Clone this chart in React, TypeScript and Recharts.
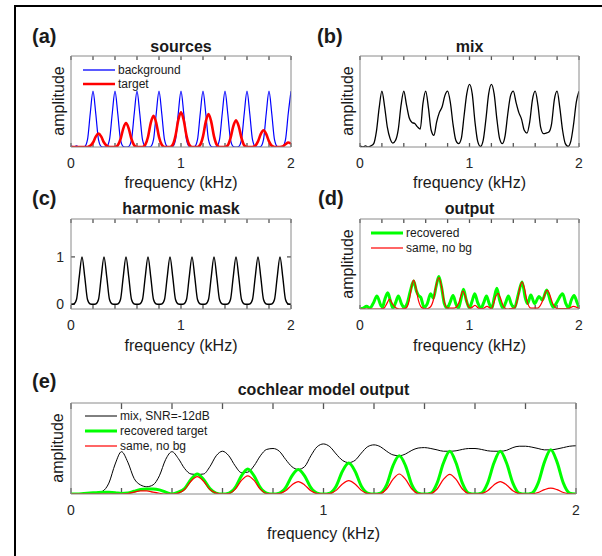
import React from 'react';
import { LineChart, Line, XAxis, YAxis, ReferenceLine } from 'recharts';

const FONT = '"Liberation Sans", Arial, Helvetica, sans-serif';
const AXIS = '#8a8a8a';
const TICK = '#555555';
const TXT = '#262626';

// frequency grid in kHz (0.025 kHz step)
const freqGrid = [
  0, 0.025, 0.05, 0.075, 0.1, 0.125, 0.15, 0.175,
  0.2, 0.225, 0.25, 0.275, 0.3, 0.325, 0.35, 0.375,
  0.4, 0.425, 0.45, 0.475, 0.5, 0.525, 0.55, 0.575,
  0.6, 0.625, 0.65, 0.675, 0.7, 0.725, 0.75, 0.775,
  0.8, 0.825, 0.85, 0.875, 0.9, 0.925, 0.95, 0.975,
  1.0, 1.025, 1.05, 1.075, 1.1, 1.125, 1.15, 1.175,
  1.2, 1.225, 1.25, 1.275, 1.3, 1.325, 1.35, 1.375,
  1.4, 1.425, 1.45, 1.475, 1.5, 1.525, 1.55, 1.575,
  1.6, 1.625, 1.65, 1.675, 1.7, 1.725, 1.75, 1.775,
  1.8, 1.825, 1.85, 1.875, 1.9, 1.925, 1.95, 1.975,
  2.0,
];

const freqTicks = [0, 0.2, 0.4, 0.6, 0.8, 1, 1.2, 1.4, 1.6, 1.8, 2];
const maskTicks = [0, 1];

// (a) sources
const backgroundA = [
  0.02, 0.0, 0.02, 0.0, 0.0, 0.01, 0.13, 0.6,
  1.0, 0.6, 0.13, 0.01, 0.0, 0.01, 0.13, 0.6,
  1.0, 0.6, 0.13, 0.01, 0.0, 0.01, 0.13, 0.6,
  1.0, 0.6, 0.13, 0.01, 0.0, 0.01, 0.13, 0.6,
  1.0, 0.6, 0.13, 0.01, 0.0, 0.01, 0.13, 0.6,
  1.0, 0.6, 0.13, 0.01, 0.0, 0.01, 0.13, 0.6,
  1.0, 0.6, 0.13, 0.01, 0.0, 0.01, 0.13, 0.6,
  1.0, 0.6, 0.13, 0.01, 0.0, 0.01, 0.13, 0.6,
  1.0, 0.6, 0.13, 0.01, 0.0, 0.01, 0.13, 0.6,
  1.0, 0.6, 0.13, 0.01, 0.0, 0.01, 0.13, 0.6,
  1.0,
];
const targetA = [
  0, 0, 0, 0, 0, 0, 0, 0.02,
  0.08, 0.185, 0.24, 0.185, 0.08, 0.02, 0, 0,
  0, 0.03, 0.14, 0.33, 0.43, 0.33, 0.14, 0.03,
  0, 0, 0, 0.04, 0.18, 0.43, 0.56, 0.43,
  0.18, 0.04, 0, 0, 0, 0.04, 0.2, 0.48,
  0.62, 0.48, 0.2, 0.04, 0, 0, 0, 0.04,
  0.19, 0.45, 0.59, 0.45, 0.19, 0.04, 0, 0,
  0, 0.03, 0.16, 0.37, 0.48, 0.37, 0.16, 0.03,
  0, 0, 0, 0.02, 0.1, 0.23, 0.3, 0.23,
  0.1, 0.02, 0, 0, 0, 0.01, 0.05, 0.08,
  0.06,
];

// (b) mix
const mixB = [
  0.02, 0.0, 0.02, 0.0, 0.02, 0.06, 0.28, 0.7,
  1.0, 0.72, 0.35, 0.15, 0.07, 0.12, 0.32, 0.75,
  1.0, 0.75, 0.52, 0.44, 0.42, 0.36, 0.32, 0.78,
  1.0, 0.7, 0.3, 0.21, 0.45, 0.62, 0.72, 0.92,
  1.0, 0.8, 0.4, 0.12, 0.06, 0.15, 0.55, 0.95,
  1.12, 0.95, 0.45, 0.1, 0.01, 0.12, 0.5, 0.95,
  1.12, 0.95, 0.5, 0.15, 0.06, 0.2, 0.6, 0.92,
  1.0, 0.8, 0.62, 0.5, 0.3, 0.25, 0.45, 0.85,
  1.0, 0.75, 0.35, 0.24, 0.25, 0.27, 0.42, 0.85,
  1.0, 0.7, 0.3, 0.06, 0.01, 0.1, 0.4, 0.8,
  1.0,
];

// (c) harmonic mask
const maskC = [
  0, 0.005, 0.1, 0.58, 1.0, 0.58, 0.1, 0.005,
  0, 0.005, 0.1, 0.58, 1.0, 0.58, 0.1, 0.005,
  0, 0.005, 0.1, 0.58, 1.0, 0.58, 0.1, 0.005,
  0, 0.005, 0.1, 0.58, 1.0, 0.58, 0.1, 0.005,
  0, 0.005, 0.1, 0.58, 1.0, 0.58, 0.1, 0.005,
  0, 0.005, 0.1, 0.58, 1.0, 0.58, 0.1, 0.005,
  0, 0.005, 0.1, 0.58, 1.0, 0.58, 0.1, 0.005,
  0, 0.005, 0.1, 0.58, 1.0, 0.58, 0.1, 0.005,
  0, 0.005, 0.1, 0.58, 1.0, 0.58, 0.1, 0.005,
  0, 0.005, 0.1, 0.58, 1.0, 0.58, 0.1, 0.005,
  0,
];

// (d) output : [frequency kHz, amplitude]
const recoveredD: [number, number][] = [
  [0, 0], [0.03, 0.01], [0.06, 0.03], [0.09, 0.01], [0.12, 0.06], [0.155, 0.145],
  [0.19, 0.04], [0.205, 0.02], [0.225, 0.1], [0.253, 0.18], [0.28, 0.08], [0.3, 0.01],
  [0.325, 0.07], [0.35, 0.145], [0.378, 0.06], [0.405, 0.01], [0.43, 0.06], [0.46, 0.2],
  [0.49, 0.31], [0.515, 0.2], [0.535, 0.15], [0.555, 0.13], [0.585, 0.02], [0.615, 0.06],
  [0.645, 0.17], [0.67, 0.12], [0.695, 0.25], [0.72, 0.36], [0.745, 0.24], [0.77, 0.06],
  [0.795, 0.01], [0.822, 0.07], [0.85, 0.15], [0.875, 0.06], [0.9, 0.01], [0.92, 0.1],
  [0.945, 0.22], [0.97, 0.1], [1.0, 0.01], [1.022, 0.08], [1.048, 0.17], [1.075, 0.07],
  [1.105, 0.01], [1.13, 0.07], [1.155, 0.145], [1.18, 0.06], [1.205, 0.01], [1.225, 0.12],
  [1.25, 0.23], [1.275, 0.1], [1.305, 0.01], [1.33, 0.07], [1.355, 0.145], [1.38, 0.06],
  [1.41, 0.01], [1.445, 0.16], [1.48, 0.3], [1.51, 0.12], [1.53, 0.06], [1.56, 0.155],
  [1.595, 0.06], [1.635, 0.14], [1.665, 0.1], [1.705, 0.21], [1.74, 0.08], [1.765, 0.02],
  [1.8, 0.08], [1.85, 0.17], [1.88, 0.06], [1.905, 0.01], [1.93, 0.1], [1.955, 0.15],
  [1.98, 0.08], [2.0, 0.02],
];
const sameNoBgD: [number, number][] = [
  [0, 0], [0.18, 0], [0.22, 0.01], [0.245, 0.06], [0.27, 0.11], [0.295, 0.06],
  [0.33, 0.01], [0.36, 0], [0.42, 0.01], [0.45, 0.1], [0.47, 0.24], [0.49, 0.32],
  [0.51, 0.24], [0.535, 0.09], [0.56, 0.02], [0.6, 0], [0.64, 0.02], [0.67, 0.1],
  [0.695, 0.26], [0.72, 0.35], [0.745, 0.25], [0.77, 0.08], [0.8, 0.01], [0.86, 0.01],
  [0.9, 0.06], [0.92, 0.14], [0.94, 0.2], [0.96, 0.15], [0.985, 0.04], [1.01, 0.01],
  [1.05, 0.04], [1.09, 0.005], [1.12, 0.005], [1.16, 0.03], [1.2, 0.005], [1.22, 0.06],
  [1.24, 0.14], [1.26, 0.175], [1.28, 0.13], [1.31, 0.03], [1.34, 0], [1.41, 0.01],
  [1.44, 0.11], [1.46, 0.24], [1.48, 0.3], [1.5, 0.24], [1.525, 0.09], [1.56, 0.01],
  [1.62, 0.01], [1.66, 0.07], [1.69, 0.17], [1.71, 0.21], [1.73, 0.17], [1.76, 0.06],
  [1.8, 0.005], [1.9, 0.005], [1.95, 0.03], [2.0, 0.005],
];

// (e) cochlear model output
const mixE = [
  0, 0, 0, 0.005, 0.01, 0.03, 0.12, 0.33,
  0.465, 0.35, 0.17, 0.1, 0.08, 0.1, 0.2, 0.38,
  0.465, 0.39, 0.28, 0.22, 0.215, 0.22, 0.3, 0.42,
  0.47, 0.42, 0.31, 0.235, 0.24, 0.31, 0.42, 0.49,
  0.5, 0.47, 0.38, 0.3, 0.27, 0.3, 0.42, 0.52,
  0.55, 0.52, 0.44, 0.37, 0.345, 0.37, 0.45, 0.52,
  0.54, 0.52, 0.47, 0.43, 0.42, 0.44, 0.48, 0.505,
  0.51, 0.5, 0.485, 0.47, 0.47, 0.475, 0.49, 0.5,
  0.5, 0.49, 0.475, 0.47, 0.47, 0.48, 0.51, 0.525,
  0.525, 0.515, 0.5, 0.485, 0.485, 0.495, 0.51, 0.525,
  0.53,
];
const recoveredE = [
  0, 0, 0.005, 0.01, 0.015, 0.02, 0.02, 0.015,
  0.005, 0.01, 0.03, 0.05, 0.055, 0.055, 0.045, 0.02,
  0, 0.02, 0.06, 0.16, 0.22, 0.16, 0.06, 0.01,
  0, 0.01, 0.07, 0.2, 0.275, 0.2, 0.07, 0.01,
  0, 0.01, 0.07, 0.2, 0.27, 0.2, 0.07, 0.01,
  0, 0.01, 0.085, 0.25, 0.34, 0.25, 0.085, 0.01,
  0, 0.01, 0.1, 0.31, 0.42, 0.31, 0.1, 0.01,
  0, 0.01, 0.12, 0.34, 0.47, 0.34, 0.12, 0.01,
  0, 0.01, 0.12, 0.34, 0.47, 0.34, 0.12, 0.01,
  0, 0.01, 0.12, 0.35, 0.485, 0.35, 0.12, 0.01,
  0,
];
const sameNoBgE = [
  0, 0, 0, 0, 0, 0, 0, 0,
  0, 0.005, 0.02, 0.035, 0.035, 0.02, 0.008, 0,
  0, 0.01, 0.05, 0.14, 0.19, 0.14, 0.05, 0.01,
  0, 0.005, 0.05, 0.15, 0.2, 0.15, 0.05, 0.005,
  0, 0.005, 0.035, 0.1, 0.137, 0.1, 0.035, 0.005,
  0, 0.005, 0.04, 0.11, 0.147, 0.11, 0.04, 0.005,
  0, 0.005, 0.055, 0.16, 0.22, 0.16, 0.055, 0.005,
  0, 0.005, 0.055, 0.16, 0.216, 0.16, 0.055, 0.005,
  0, 0.005, 0.035, 0.1, 0.137, 0.1, 0.035, 0.005,
  0, 0.003, 0.016, 0.048, 0.065, 0.048, 0.016, 0.003,
  0,
];

const rowsA = freqGrid.map((f, i) => ({ f, bg: backgroundA[i], tg: targetA[i] }));
const rowsB = freqGrid.map((f, i) => ({ f, mix: mixB[i] }));
const rowsC = freqGrid.map((f, i) => ({ f, mask: maskC[i] }));
const rowsRecD = recoveredD.map(([f, v]) => ({ f, v }));
const rowsNoBgD = sameNoBgD.map(([f, v]) => ({ f, v }));
const rowsE = freqGrid.map((f, i) => ({ f, mix: mixE[i], rec: recoveredE[i], nobg: sameNoBgE[i] }));

const isInt = (v: number) => Math.abs(v - Math.round(v)) < 1e-6;

const bottomLabel = (p: any) => {
  const v = p.payload.value;
  if (!isInt(v)) return <g />;
  return (
    <text x={p.x} y={p.y + 21} textAnchor="middle" fontSize={14} fill={TXT} fontFamily={FONT}>
      {String(Math.round(v))}
    </text>
  );
};
const leftLabel = (p: any) => (
  <text x={p.x - 7} y={p.y + 5} textAnchor="end" fontSize={14} fill={TXT} fontFamily={FONT}>
    {String(p.payload.value)}
  </text>
);

type Box = { l: number; r: number; t: number; b: number };

// inward tick marks drawn as short reference segments through the chart's own scales
function tickMarks(box: Box, yDomain: [number, number], tickLen: number, yTicks?: number[]) {
  const [y0, y1] = yDomain;
  const dy = ((y1 - y0) * tickLen) / (box.b - box.t);
  const dx = (2 * tickLen) / (box.r - box.l);
  const out: React.ReactNode[] = [];
  freqTicks.forEach((t, i) => {
    out.push(
      <ReferenceLine
        key={'b' + i}
        xAxisId="b"
        yAxisId="l"
        ifOverflow="visible"
        segment={[{ x: t, y: y0 }, { x: t, y: y0 + dy }]}
        stroke={TICK}
        strokeWidth={1.3}
      />,
      <ReferenceLine
        key={'t' + i}
        xAxisId="b"
        yAxisId="l"
        ifOverflow="visible"
        segment={[{ x: t, y: y1 }, { x: t, y: y1 - dy }]}
        stroke={TICK}
        strokeWidth={1.3}
      />
    );
  });
  (yTicks || []).forEach((v, i) => {
    out.push(
      <ReferenceLine
        key={'l' + i}
        xAxisId="b"
        yAxisId="l"
        ifOverflow="visible"
        segment={[{ x: 0, y: v }, { x: dx, y: v }]}
        stroke={TICK}
        strokeWidth={1.3}
      />,
      <ReferenceLine
        key={'r' + i}
        xAxisId="b"
        yAxisId="l"
        ifOverflow="visible"
        segment={[{ x: 2, y: v }, { x: 2 - dx, y: v }]}
        stroke={TICK}
        strokeWidth={1.3}
      />
    );
  });
  return out;
}

function Panel(props: {
  box: Box;
  yDomain: [number, number];
  tickLen: number;
  data?: any[];
  yTicks?: number[];
  children: React.ReactNode;
}) {
  const { box, yDomain, tickLen, data, yTicks, children } = props;
  const margin = { left: box.l - 20, right: 602 - box.r - 20, top: box.t - 20, bottom: 556 - box.b - 20 };
  return (
    <div style={{ position: 'absolute', left: 0, top: 0 }}>
      <LineChart width={602} height={556} data={data} margin={margin}>
        <XAxis
          xAxisId="b"
          type="number"
          dataKey="f"
          domain={[0, 2]}
          allowDataOverflow
          ticks={freqTicks}
          interval={0}
          height={20}
          tickSize={0}
          tickMargin={0}
          tickLine={false}
          axisLine={{ stroke: AXIS }}
          tick={bottomLabel}
        />
        <XAxis
          xAxisId="t"
          orientation="top"
          type="number"
          dataKey="f"
          domain={[0, 2]}
          allowDataOverflow
          height={20}
          tickLine={false}
          axisLine={{ stroke: AXIS }}
          tick={false}
        />
        <YAxis
          yAxisId="l"
          type="number"
          domain={yDomain}
          allowDataOverflow
          width={20}
          ticks={yTicks || []}
          interval={0}
          tickSize={0}
          tickMargin={0}
          tickLine={false}
          axisLine={{ stroke: AXIS }}
          tick={yTicks ? leftLabel : false}
        />
        <YAxis
          yAxisId="r"
          orientation="right"
          type="number"
          domain={yDomain}
          allowDataOverflow
          width={20}
          tickLine={false}
          axisLine={{ stroke: AXIS }}
          tick={false}
        />
        {tickMarks(box, yDomain, tickLen, yTicks)}
        {children}
      </LineChart>
    </div>
  );
}

const lineCommon = {
  xAxisId: 'b',
  yAxisId: 'l',
  type: 'monotone' as const,
  dot: false,
  activeDot: false,
  isAnimationActive: false,
};

function Annotations() {
  const t = (x: number, y: number, s: string, size: number, opts: any = {}) => (
    <text
      x={x}
      y={y}
      fontSize={size}
      fontFamily={FONT}
      fill={opts.fill || '#1a1a1a'}
      fontWeight={opts.bold ? 'bold' : 'normal'}
      textAnchor={opts.anchor || 'middle'}
      dominantBaseline="central"
      transform={opts.rotate ? `rotate(-90 ${x} ${y})` : undefined}
    >
      {s}
    </text>
  );
  return (
    <svg
      width={602}
      height={556}
      style={{ position: 'absolute', left: 0, top: 0, pointerEvents: 'none' }}
    >
      <line x1={15} y1={6} x2={602} y2={6} stroke="#000" strokeWidth={2} />
      <line x1={15} y1={5} x2={15} y2={556} stroke="#000" strokeWidth={2} />

      {t(32, 36, '(a)', 20, { bold: true, anchor: 'start' })}
      {t(317, 36, '(b)', 20, { bold: true, anchor: 'start' })}
      {t(32, 198, '(c)', 20, { bold: true, anchor: 'start' })}
      {t(318, 198, '(d)', 20, { bold: true, anchor: 'start' })}
      {t(32, 381, '(e)', 20, { bold: true, anchor: 'start' })}

      {t(181, 46, 'sources', 16, { bold: true })}
      {t(469.5, 46, 'mix', 16, { bold: true })}
      {t(181, 208, 'harmonic mask', 16, { bold: true })}
      {t(469.5, 208, 'output', 16, { bold: true })}
      {t(323.5, 389, 'cochlear model output', 16, { bold: true })}

      {t(181, 182, 'frequency (kHz)', 16)}
      {t(469.5, 182, 'frequency (kHz)', 16)}
      {t(181, 345, 'frequency (kHz)', 16)}
      {t(469.5, 345, 'frequency (kHz)', 16)}
      {t(323.5, 533, 'frequency (kHz)', 16)}

      {t(58, 101, 'amplitude', 16, { rotate: true })}
      {t(347, 101, 'amplitude', 16, { rotate: true })}
      {t(347, 264, 'amplitude', 16, { rotate: true })}
      {t(57, 448, 'amplitude', 16, { rotate: true })}

      <line x1={83} y1={70} x2={115} y2={70} stroke="#0000ff" strokeWidth={1.3} />
      {t(118, 70, 'background', 12, { anchor: 'start' })}
      <line x1={83} y1={84} x2={115} y2={84} stroke="#ff0000" strokeWidth={2.5} />
      {t(118, 84, 'target', 12, { anchor: 'start' })}

      <line x1={371} y1={233} x2={403} y2={233} stroke="#00ff00" strokeWidth={3} />
      {t(406, 233, 'recovered', 12, { anchor: 'start' })}
      <line x1={371} y1={248} x2={403} y2={248} stroke="#ff0000" strokeWidth={1.2} />
      {t(406, 248, 'same, no bg', 12, { anchor: 'start' })}

      <line x1={85} y1={416} x2={117} y2={416} stroke="#000" strokeWidth={1} />
      {t(120, 416, 'mix, SNR=-12dB', 12, { anchor: 'start' })}
      <line x1={85} y1={431} x2={117} y2={431} stroke="#00ff00" strokeWidth={3} />
      {t(120, 431, 'recovered target', 12, { anchor: 'start' })}
      <line x1={85} y1={446} x2={117} y2={446} stroke="#ff0000" strokeWidth={1.2} />
      {t(120, 446, 'same, no bg', 12, { anchor: 'start' })}
    </svg>
  );
}

export default function App() {
  return (
    <div
      style={{
        position: 'absolute',
        left: 0,
        top: 0,
        width: 602,
        height: 556,
        background: '#fff',
        overflow: 'hidden',
        fontFamily: FONT,
      }}
    >
      <Panel box={{ l: 71, r: 291, t: 56, b: 147 }} yDomain={[0, 1.63]} tickLen={4} data={rowsA}>
        <Line {...lineCommon} dataKey="bg" stroke="#0000ff" strokeWidth={1.2} />
        <Line {...lineCommon} dataKey="tg" stroke="#ff0000" strokeWidth={2.6} />
      </Panel>
      <Panel box={{ l: 360, r: 579, t: 56, b: 147 }} yDomain={[0, 1.63]} tickLen={4} data={rowsB}>
        <Line {...lineCommon} dataKey="mix" stroke="#000" strokeWidth={1.3} />
      </Panel>
      <Panel box={{ l: 71, r: 291, t: 219, b: 309 }} yDomain={[-0.1, 1.8]} tickLen={4} data={rowsC} yTicks={maskTicks}>
        <Line {...lineCommon} dataKey="mask" stroke="#000" strokeWidth={1.4} />
      </Panel>
      <Panel box={{ l: 360, r: 579, t: 219, b: 309 }} yDomain={[0, 1]} tickLen={4} data={rowsRecD}>
        <Line {...lineCommon} data={rowsRecD} dataKey="v" stroke="#00ff00" strokeWidth={3} />
        <Line {...lineCommon} data={rowsNoBgD} dataKey="v" stroke="#ff0000" strokeWidth={1.2} />
      </Panel>
      <Panel box={{ l: 71, r: 576, t: 403, b: 494 }} yDomain={[0, 1]} tickLen={6} data={rowsE}>
        <Line {...lineCommon} dataKey="mix" stroke="#000" strokeWidth={1} />
        <Line {...lineCommon} dataKey="rec" stroke="#00ff00" strokeWidth={3} />
        <Line {...lineCommon} dataKey="nobg" stroke="#ff0000" strokeWidth={1.2} />
      </Panel>
      <Annotations />
    </div>
  );
}
